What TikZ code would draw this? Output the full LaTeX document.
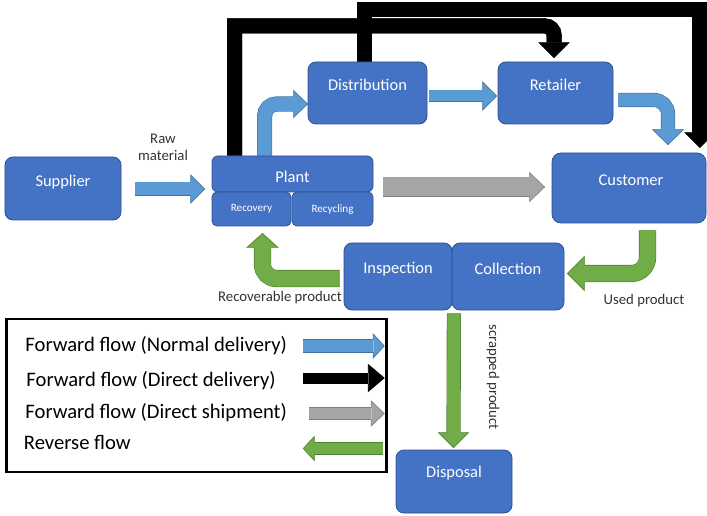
\documentclass[tikz,border=0pt]{standalone}
\usepackage{fontspec}
\setmainfont{Carlito}
\usetikzlibrary{calc,backgrounds}

\definecolor{boxfill}{HTML}{4472C4}
\definecolor{boxedge}{HTML}{2F528F}
\definecolor{bluefill}{HTML}{5B9BD5}
\definecolor{blueedge}{HTML}{41719C}
\definecolor{greenfill}{HTML}{70AD47}
\definecolor{greenedge}{HTML}{507E32}
\definecolor{grayfill}{HTML}{A5A5A5}
\definecolor{grayedge}{HTML}{7F7F7F}
\definecolor{blackfill}{HTML}{000000}
\definecolor{blackedge}{HTML}{000000}
\definecolor{labeltext}{HTML}{333333}

\tikzset{
  stage/.style={draw=boxedge, fill=boxfill, line width=0.8bp, rounded corners=8bp, inner sep=0pt},
  stagetext/.style={text=white, font=\fontsize{16.5}{19}\selectfont, inner sep=0pt},
  subtext/.style={text=white, font=\fontsize{11.2}{13}\selectfont, inner sep=0pt},
  flowlabel/.style={text=labeltext, font=\fontsize{14.8}{17}\selectfont, inner sep=0pt, align=center},
  keytext/.style={text=black, font=\fontsize{20.7}{24}\selectfont, inner sep=0pt, anchor=west},
}

% shaft of a block arrow: [path options]{colour}{width}{outline width}{path}
\newcommand\flowshaft[5][]{%
  \draw[#1, line width=#3, draw=#2fill, preaction={draw=#2edge, line width=#4}] #5;}
% block arrow heads: {colour}{tip}{shaft half width}{head half width}{head length}
\newcommand\headR[5]{%
  \fill[#1fill] ($(#2)+(-#5,-#4)$) -- (#2) -- ($(#2)+(-#5,#4)$) -- cycle;
  \draw[#1edge, line width=0.6bp] ($(#2)+(-#5,-#3)$) -- ($(#2)+(-#5,-#4)$) -- (#2) -- ($(#2)+(-#5,#4)$) -- ($(#2)+(-#5,#3)$);}
\newcommand\headL[5]{%
  \fill[#1fill] ($(#2)+(#5,-#4)$) -- (#2) -- ($(#2)+(#5,#4)$) -- cycle;
  \draw[#1edge, line width=0.6bp] ($(#2)+(#5,-#3)$) -- ($(#2)+(#5,-#4)$) -- (#2) -- ($(#2)+(#5,#4)$) -- ($(#2)+(#5,#3)$);}
\newcommand\headD[5]{%
  \fill[#1fill] ($(#2)+(-#4,-#5)$) -- (#2) -- ($(#2)+(#4,-#5)$) -- cycle;
  \draw[#1edge, line width=0.6bp] ($(#2)+(-#3,-#5)$) -- ($(#2)+(-#4,-#5)$) -- (#2) -- ($(#2)+(#4,-#5)$) -- ($(#2)+(#3,-#5)$);}
\newcommand\headU[5]{%
  \fill[#1fill] ($(#2)+(-#4,#5)$) -- (#2) -- ($(#2)+(#4,#5)$) -- cycle;
  \draw[#1edge, line width=0.6bp] ($(#2)+(-#3,#5)$) -- ($(#2)+(-#4,#5)$) -- (#2) -- ($(#2)+(#4,#5)$) -- ($(#2)+(#3,#5)$);}

\begin{document}
\begin{tikzpicture}[x=1bp, y=-1bp]
\useasboundingbox (0,0) rectangle (707,516);

% supply chain stages
\node[stage, minimum width=116bp, minimum height=63bp] (sup) at (63,188.5) {};
\node[stage, rounded corners=6bp, minimum width=161bp, minimum height=36bp] (plant) at (292.5,174) {};
\node[stage, rounded corners=5bp, minimum width=79bp, minimum height=34bp] (recov) at (251.5,209) {};
\node[stage, rounded corners=5bp, minimum width=81bp, minimum height=34bp] (recyc) at (332.5,209) {};
\node[stage, minimum width=119bp, minimum height=62bp] (dist) at (367.5,93) {};
\node[stage, minimum width=115bp, minimum height=62bp] (ret) at (555.5,93) {};
\node[stage, rounded corners=9bp, minimum width=154bp, minimum height=70bp] (cust) at (629,188) {};
\node[stage, minimum width=108bp, minimum height=67bp] (insp) at (398,276.5) {};
\node[stage, minimum width=112bp, minimum height=67bp] (coll) at (508,276.5) {};
\node[stage, minimum width=116bp, minimum height=63bp] (disp) at (454,481.5) {};

\node[stagetext] (supT) at ($(sup)+(0,-6.5)$) {Supplier};
\node[stagetext] (plantT) at ($(plant)+(0,3)$) {Plant};
\node[subtext] (recovT) at (recov) {Recovery};
\node[subtext] (recycT) at ($(recyc)+(0,0.5)$) {Recycling};
\node[stagetext] (distT) at ($(dist)+(0,-8)$) {Distribution};
\node[stagetext] (retT) at ($(ret)+(0,-8)$) {Retailer};
\node[stagetext] (custT) at ($(cust)+(2,-8)$) {Customer};
\node[stagetext] (inspT) at ($(insp)+(0,-7.5)$) {Inspection};
\node[stagetext] (collT) at ($(coll)+(0,-7.5)$) {Collection};
\node[stagetext] (dispT) at ($(disp)+(0,-8.5)$) {Disposal};

% legend frame
\node[draw=black, line width=2.5bp, minimum width=380bp, minimum height=153bp, inner sep=0pt] (key) at (196.5,395.5) {};

\begin{pgfonlayer}{background}
\fill[white] (0,0) rectangle (707,516);

% raw material
\coordinate (rawT) at ($(sup.east -| plant.west)+(-7,0.5)$);
\flowshaft{blue}{13bp}{14.2bp}{($(sup.east)+(14,0.5)$) -- ($(rawT)+(-14,0)$)}
\headR{blue}{rawT}{6.5}{14}{14}

% plant to distribution
\coordinate (pdS) at ($(plant.north west)+(53,0)$);
\coordinate (pdT) at ($(dist.west)+(0,11)$);
\flowshaft[rounded corners=12bp]{blue}{14bp}{15.2bp}{(pdS) |- ($(pdT)+(-14,0)$)}
\headR{blue}{pdT}{7}{13.5}{14}

% distribution to retailer
\coordinate (drT) at ($(ret.west)+(-1,3)$);
\flowshaft{blue}{11bp}{12.2bp}{($(dist.east)+(2,3)$) -- ($(drT)+(-14,0)$)}
\headR{blue}{drT}{5.5}{14}{14}

% retailer to customer
\coordinate (rcT) at ($(cust.north)+(39,-8)$);
\flowshaft[rounded corners=14bp]{blue}{13bp}{14.2bp}{($(ret.east)+(5,7)$) -| ($(rcT)+(0,-15)$)}
\headD{blue}{rcT}{6.5}{15.5}{15}

% direct shipment plant to customer
\coordinate (pcT) at ($(cust.west)+(-7,-1)$);
\flowshaft{gray}{19bp}{20.2bp}{($(plant.east)+(10,13)$) -- ($(pcT)+(-15,0)$)}
\headR{gray}{pcT}{9.5}{14.5}{15}

% direct delivery plant to retailer
\coordinate (topA) at (0,26);
\coordinate (b1S) at ($(plant.north west)+(23,0)$);
\coordinate (b1T) at ($(ret.north)+(-1.5,-4)$);
\flowshaft{black}{15bp}{15bp}{(b1S) -- (b1S |- topA) [rounded corners=9bp] -- (b1T |- topA) -- ($(b1T)+(0,-15)$)}
\headD{black}{b1T}{7.5}{15}{15}

% direct delivery distribution to customer
\coordinate (topB) at (0,9.5);
\coordinate (b2S) at ($(dist.north west)+(56.5,0)$);
\coordinate (b2T) at ($(cust.north east)+(-6.5,-5)$);
\flowshaft{black}{15bp}{15bp}{(b2S) |- (b2T |- topB) -- ($(b2T)+(0,-15)$)}
\headD{black}{b2T}{7.5}{15}{15}

% used product back to collection
\coordinate (ccS) at ($(cust.south)+(18.5,7)$);
\coordinate (ccT) at ($(coll.east)+(3,-3)$);
\flowshaft[rounded corners=16bp]{green}{16bp}{17.2bp}{(ccS) |- ($(ccT)+(17,0)$)}
\headL{green}{ccT}{8}{17}{17}

% recoverable product back to the plant
\coordinate (ipT) at ($(recov.south)+(11,7)$);
\flowshaft[rounded corners=14bp]{green}{16bp}{17.2bp}{($(insp.west)+(-4,2)$) -| ($(ipT)+(0,14)$)}
\headU{green}{ipT}{8}{15.5}{14}

% scrapped product to disposal
\coordinate (sdT) at ($(disp.north)+(-0.5,-2)$);
\flowshaft{green}{13bp}{14.2bp}{($(insp.south east)+(1.5,3)$) -- ($(sdT)+(0,-15)$)}
\headD{green}{sdT}{6.5}{15}{15}

% legend arrows
\coordinate (kb) at ($(key.east)+(-3.5,-49.5)$);
\flowshaft{blue}{12bp}{13.2bp}{($(kb)+(-81,0)$) -- ($(kb)+(-11,0)$)}
\headR{blue}{kb}{6}{12}{11}
\coordinate (kk) at ($(key.east)+(-3.5,-17.5)$);
\flowshaft{black}{11bp}{11bp}{($(kk)+(-81,0)$) -- ($(kk)+(-16,0)$)}
\headR{black}{kk}{5.5}{13.5}{16}
\coordinate (kg) at ($(key.east)+(-3.5,18)$);
\flowshaft{gray}{11bp}{12.2bp}{($(kg)+(-75,0)$) -- ($(kg)+(-13,0)$)}
\headR{gray}{kg}{5.5}{12.5}{13}
\coordinate (kr) at ($(key.east)+(-84.5,53)$);
\flowshaft{green}{11bp}{12.2bp}{($(kr)+(80,0)$) -- ($(kr)+(11,0)$)}
\headL{green}{kr}{5.5}{12}{11}
\end{pgfonlayer}

% flow labels
\node[flowlabel] (rawL) at (163,147) {Raw\\material};
\node[flowlabel] (recL) at (280,298) {Recoverable product};
\node[flowlabel] (usedL) at (644,301) {Used product};
\node[flowlabel, rotate=-90] (scrapL) at (493,377) {scrapped product};

% legend entries
\node[keytext] (k1) at ($(key.west)+(20,-50)$) {Forward flow (Normal delivery)};
\node[keytext] (k2) at ($(key.west)+(21,-14.5)$) {Forward flow (Direct delivery)};
\node[keytext] (k3) at ($(key.west)+(20,17)$) {Forward flow (Direct shipment)};
\node[keytext] (k4) at ($(key.west)+(18.5,47)$) {Reverse flow};
\end{tikzpicture}
\end{document}
